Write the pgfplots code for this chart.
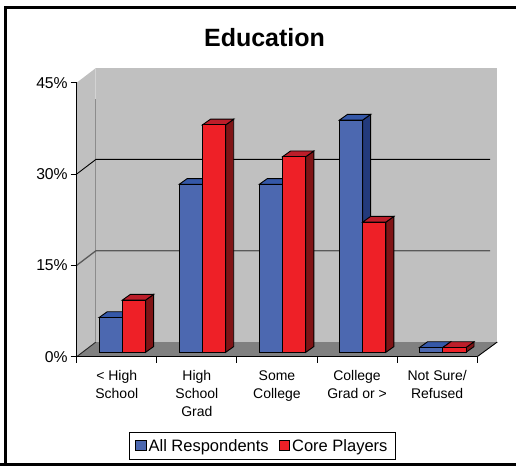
\documentclass[border=0pt]{standalone}
\usepackage{pgfplots}
\pgfplotsset{compat=1.18}
\usepackage{fontspec}
\setmainfont{Liberation Sans}
\definecolor{wall}{HTML}{C0C0C0}
\definecolor{floorc}{HTML}{808080}
\definecolor{bfront}{HTML}{4C68B0}
\definecolor{bside}{HTML}{233A7C}
\definecolor{btop}{HTML}{3558A8}
\definecolor{rfront}{HTML}{EE2027}
\definecolor{rside}{HTML}{801416}
\definecolor{rtop}{HTML}{BC1E2A}
% one 3-D box's side and top: #1 side colour, #2 top colour, #3 left x, #4 right x, #5 value
\newcommand\boxfaces[5]{%
  \pgfmathsetmacro\xa{#3+0.1}\pgfmathsetmacro\xb{#4+0.1}\pgfmathsetmacro\vt{#5+0.95}%
  \edef\temp{\noexpand\addplot[forget plot,fill=#1,draw=black,line width=0.9bp] coordinates {(#4,0)(\xb,0.95)(\xb,\vt)(#4,#5)} --cycle;
  \noexpand\addplot[forget plot,fill=#2,draw=black,line width=0.9bp] coordinates {(#3,#5)(\xa,\vt)(\xb,\vt)(#4,#5)} --cycle;}\temp}
\begin{document}
\begin{tikzpicture}[x=1bp,y=1bp]
\useasboundingbox (0,0) rectangle (516,466);
\fill[white] (0,0) rectangle (516,466);
\draw[line width=3bp,black] (5.5,0) -- (5.5,458.5) -- (516,458.5);
\draw[line width=3bp,black] (0,1.3) -- (516,1.3);
\begin{axis}[
  at={(76.7bp,109.3bp)},anchor=south west,scale only axis,
  width=400.5bp,height=274bp,
  xmin=0,xmax=5,ymin=0,ymax=45,clip=false,
  axis x line=bottom,axis y line=left,axis line style={-,line width=1.1bp,black},
  axis on top,
  xtick={0.5,1.5,2.5,3.5,4.5},
  xticklabels={{< High\\School},{High\\School\\Grad},{Some\\College},{College\\Grad or >},{Not Sure/\\Refused}},
  minor xtick={0,1,2,3,4,5},
  major x tick style={draw=none},
  minor tick length=6bp,
  tick align=outside,
  minor tick style={black,line width=0.9bp},
  ytick={0,15,30,45},
  yticklabels={0\%,15\%,30\%,45\%},
  major y tick style={black,line width=0.9bp},
  major tick length=6bp,
  y tick label style={font=\fontsize{15.7bp}{18bp}\selectfont,xshift=0.5bp},
  x tick label style={font=\fontsize{14bp}{18bp}\selectfont,align=center,yshift=-4.5bp},
  title={\textbf{Education}},
  title style={at={(0.469,1.163)},anchor=center,yshift=-6pt,font=\fontsize{25bp}{28bp}\selectfont},
]
\addplot[fill=wall,draw=none] coordinates {(0,0)(0.24,2.41)(0.24,47.41)(0,45)} --cycle;
\addplot[fill=wall,draw=none] coordinates {(0.24,2.41)(5.25,2.41)(5.25,47.41)(0.24,47.41)} --cycle;
\addplot[fill=floorc,draw=none] coordinates {(0,0)(0.24,2.41)(5.25,2.41)(5,0)} --cycle;
\addplot[draw=black!80!wall,line width=0.9bp] coordinates {(0,0)(0.24,2.41)};
\addplot[draw=black,line width=0.9bp] coordinates {(5,0)(5.25,2.41)};
\addplot[draw=black!45,line width=1bp] coordinates {(0.24,2.41)(0.24,42.3)};
\addplot[draw=white!30!wall,line width=0.9bp] coordinates {(0.24,42.3)(0.24,47.41)};
\addplot[draw=black!65,line width=1.3bp] coordinates {(0,15)(0.24,17.4)(5.16,17.4)};
\addplot[draw=black,line width=0.9bp] coordinates {(0,30)(0.24,32.4)(5.16,32.4)};
\end{axis}
\begin{axis}[
  at={(76.7bp,113.7bp)},anchor=south west,scale only axis,
  width=400.5bp,height=270bp,
  xmin=0,xmax=5,ymin=0,ymax=45,clip=false,
  hide axis,
  legend columns=2,
  legend style={at={(0.4635,-0.3465)},anchor=center,draw=black,line width=0.8bp,
    font=\fontsize{16.5bp}{18bp}\selectfont,inner xsep=5.5bp,inner ysep=4.5bp,
    /tikz/every even column/.append style={column sep=8bp}},
]
\boxfaces{bside}{btop}{0.28}{0.57}{5.8}
\addplot[ybar,bar width=0.29,bar shift=0pt,fill=bfront,draw=black,line width=0.9bp,forget plot] coordinates {(0.425,5.8)};
\boxfaces{rside}{rtop}{0.57}{0.86}{8.7}
\addplot[ybar,bar width=0.29,bar shift=0pt,fill=rfront,draw=black,line width=0.9bp,forget plot] coordinates {(0.715,8.7)};
\boxfaces{bside}{btop}{1.28}{1.57}{28}
\addplot[ybar,bar width=0.29,bar shift=0pt,fill=bfront,draw=black,line width=0.9bp,forget plot] coordinates {(1.425,28)};
\boxfaces{rside}{rtop}{1.57}{1.86}{37.9}
\addplot[ybar,bar width=0.29,bar shift=0pt,fill=rfront,draw=black,line width=0.9bp,forget plot] coordinates {(1.715,37.9)};
\boxfaces{bside}{btop}{2.28}{2.57}{28}
\addplot[ybar,bar width=0.29,bar shift=0pt,fill=bfront,draw=black,line width=0.9bp,forget plot] coordinates {(2.425,28)};
\boxfaces{rside}{rtop}{2.57}{2.86}{32.6}
\addplot[ybar,bar width=0.29,bar shift=0pt,fill=rfront,draw=black,line width=0.9bp,forget plot] coordinates {(2.715,32.6)};
\boxfaces{bside}{btop}{3.28}{3.57}{38.7}
\addplot[ybar,bar width=0.29,bar shift=0pt,fill=bfront,draw=black,line width=0.9bp,forget plot] coordinates {(3.425,38.7)};
\boxfaces{rside}{rtop}{3.57}{3.86}{21.7}
\addplot[ybar,bar width=0.29,bar shift=0pt,fill=rfront,draw=black,line width=0.9bp,forget plot] coordinates {(3.715,21.7)};
\boxfaces{bside}{btop}{4.28}{4.57}{0.8}
\addplot[ybar,bar width=0.29,bar shift=0pt,fill=bfront,draw=black,line width=0.9bp,forget plot] coordinates {(4.425,0.8)};
\boxfaces{rside}{rtop}{4.57}{4.86}{0.8}
\addplot[ybar,bar width=0.29,bar shift=0pt,fill=rfront,draw=black,line width=0.9bp,forget plot] coordinates {(4.715,0.8)};
\addlegendimage{legend image code/.code={\draw[fill=bfront,draw=black,line width=0.9bp] (0,-5bp) rectangle (10.5bp,5bp);}}
\addlegendentry{All Respondents}
\addlegendimage{legend image code/.code={\draw[fill=rfront,draw=black,line width=0.9bp] (0,-5bp) rectangle (10.5bp,5bp);}}
\addlegendentry{Core Players}
\end{axis}
\end{tikzpicture}
\end{document}
